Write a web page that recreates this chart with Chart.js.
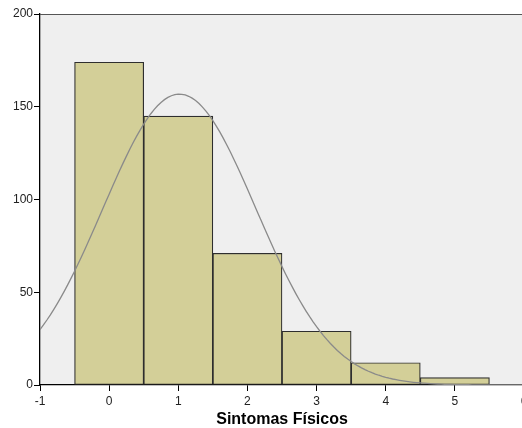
<!DOCTYPE html>
<html>
<head>
<meta charset="utf-8">
<title>Sintomas Físicos</title>
<script src="https://cdn.jsdelivr.net/npm/chart.js@4.4.1/dist/chart.umd.min.js"></script>
<style>
    html, body { margin: 0; padding: 0; background: #fff; overflow: hidden; }
    #wrap { width: 530px; height: 428px; }
</style>
</head>
<body>
<div id="wrap"><canvas id="histChart" width="530" height="428"></canvas></div>
<script>
// Histogram bins (bin centres) and frequencies
const categories = [0, 1, 2, 3, 4, 5];
const counts = [174, 145, 71, 29, 12, 4];

// Axis ranges / ticks
const xRange = [-1, 6];
const yRange = [0, 200];
const xStep = 1;
const yStep = 50;
const xTitle = 'Sintomas Físicos';

// Normal curve fitted to the histogram (mean / sd / N taken from the counts)
function normalCurve() {
    const n = counts.reduce((a, b) => a + b, 0);
    const mean = categories.reduce((s, c, i) => s + c * counts[i], 0) / n;
    const ex2 = categories.reduce((s, c, i) => s + c * c * counts[i], 0) / n;
    const sd = Math.sqrt(ex2 - mean * mean);
    const pts = [];
    for (let k = 0; k <= 140; k++) {
        const x = xRange[0] + k * (xRange[1] - xRange[0]) / 140;
        const z = (x - mean) / sd;
        pts.push({ x: x, y: n * xStep / (sd * Math.sqrt(2 * Math.PI)) * Math.exp(-0.5 * z * z) });
    }
    return pts;
}

const plotFrame = {
    id: 'plotFrame',
    beforeDraw(chart) {
        const { ctx, chartArea: a } = chart;
        ctx.save();
        ctx.fillStyle = '#efefef';
        ctx.fillRect(a.left, a.top, a.right - a.left, a.bottom - a.top);
        ctx.restore();
    },
    afterDraw(chart) {
        const { ctx, chartArea: a } = chart;
        ctx.save();
        ctx.strokeStyle = '#555';
        ctx.lineWidth = 1;
        ctx.beginPath();
        ctx.moveTo(a.left, a.top + 0.5);
        ctx.lineTo(a.right, a.top + 0.5);
        ctx.stroke();
        ctx.restore();
    }
};

const tickFont = { family: 'Arial, "Liberation Sans", sans-serif', size: 12 };

new Chart(document.getElementById('histChart'), {
    type: 'bar',
    data: {
        datasets: [{
            type: 'line',
            data: normalCurve(),
            borderColor: '#8a8a8a',
            borderWidth: 1.3,
            pointRadius: 0,
            tension: 0,
            order: 1
        }, {
            type: 'bar',
            data: categories.map((c, i) => ({ x: c, y: counts[i] })),
            backgroundColor: '#d3cf98',
            borderColor: '#2e2e2e',
            borderWidth: 1.2,
            borderSkipped: false,
            barPercentage: 1,
            categoryPercentage: 1,
            order: 2
        }]
    },
    options: {
        responsive: false,
        animation: false,
        layout: { padding: { left: 0, top: 14, right: 6, bottom: 0 } },
        plugins: { legend: { display: false }, tooltip: { enabled: false } },
        scales: {
            x: {
                type: 'linear',
                min: xRange[0],
                max: xRange[1],
                offset: false,
                grid: { display: true, offset: false, drawOnChartArea: false, tickLength: 6, color: '#000' },
                border: { display: true, color: '#000', width: 1.3 },
                ticks: { stepSize: xStep, padding: 3, color: '#222', font: tickFont, maxRotation: 0, autoSkip: false },
                title: {
                    display: true,
                    text: xTitle,
                    color: '#000',
                    font: { family: 'Arial, "Liberation Sans", sans-serif', size: 16, weight: 'bold', lineHeight: 1 },
                    padding: { top: 0, bottom: 0 }
                },
                afterFit(s) { s.height = 43; s.paddingLeft = 0; s.paddingRight = 0; }
            },
            y: {
                min: yRange[0],
                max: yRange[1],
                grid: { display: true, drawOnChartArea: false, tickLength: 6, color: '#000' },
                border: { display: true, color: '#000', width: 1.3 },
                ticks: { stepSize: yStep, padding: 1, color: '#222', font: tickFont },
                afterFit(s) { s.width = 40; }
            }
        }
    },
    plugins: [plotFrame]
});
</script>
</body>
</html>
